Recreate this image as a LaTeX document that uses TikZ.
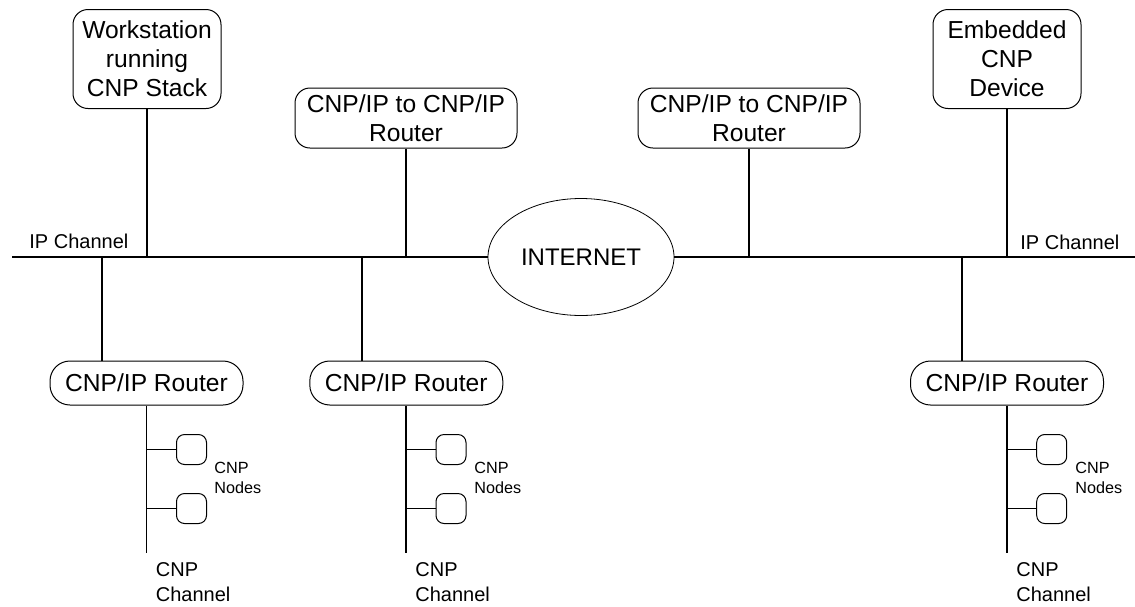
\documentclass[tikz,border=0pt]{standalone}
\usepackage{fontspec}
\setmainfont{Liberation Sans}
\usetikzlibrary{shapes.geometric, positioning}
\tikzset{
    % Node styles - rounded corners
    hostbox/.style={
        rectangle,
        rounded corners=7.5pt,
        draw,
        line width=0.5pt,
        minimum width=74pt,
        minimum height=49.5pt,
        inner sep=0pt,
        align=center,
        font=\fontsize{12.3}{14.5}\selectfont
    },
    gatebox/.style={
        hostbox,
        minimum width=111pt,
        minimum height=30pt
    },
    routerbox/.style={
        hostbox,
        rounded corners=10pt,
        minimum width=96.5pt,
        minimum height=22pt
    },
    nodebox/.style={
        rectangle,
        rounded corners=4pt,
        draw,
        line width=0.5pt,
        minimum size=15pt,
        inner sep=0pt
    },
    netcloud/.style={
        ellipse,
        draw,
        line width=0.4pt,
        minimum width=93pt,
        minimum height=58.5pt,
        inner sep=0pt,
        font=\fontsize{12}{14}\selectfont
    },
    % Label styles
    chanlabel/.style={
        anchor=west,
        inner sep=0pt,
        align=left,
        font=\fontsize{10}{12.5}\selectfont
    },
    nodelabel/.style={
        anchor=west,
        inner sep=0pt,
        align=left,
        font=\fontsize{8.1}{10}\selectfont
    },
    % Line styles
    link/.style={
        draw,
        line width=0.9pt
    }
}

\begin{document}
\begin{tikzpicture}[x=0.5pt, y=-0.5pt]
    \useasboundingbox (0,0) rectangle (1135,606);

    % IP backbone
    \coordinate (busL) at (12,257);
    \coordinate (busR) at (1135,257);
    \node[netcloud] (inet) at (581,257) {INTERNET};
    \draw[link] (busL) -- (inet.west);
    \draw[link] (inet.east) -- (busR);
    \node[chanlabel] (ipL) at (29,241) {IP Channel};
    \node[chanlabel] (ipR) at (1020,242) {IP Channel};

    % hosts and gateways above the backbone
    \node[hostbox] (ws) at (147,59) {Workstation\\running\\CNP Stack};
    \node[gatebox] (gwA) at (406,118) {CNP/IP to CNP/IP\\Router};
    \node[gatebox] (gwB) at (749,118) {CNP/IP to CNP/IP\\Router};
    \node[hostbox] (emb) at (1007,59) {Embedded\\CNP\\Device};

    \draw[link] (ws) -- (ws |- busL);
    \draw[link] (gwA) -- (gwA |- busL);
    \draw[link] (gwB) -- (gwB |- busL);
    \draw[link] (emb) -- (emb |- busL);

    % left CNP/IP router
    \node[routerbox] (rtA) at (146.5,383) {CNP/IP Router};
    \coordinate (tapA) at (102,257);
    \coordinate (chA) at (146.5,553);
    \node[nodebox] (ndA1) at (191.5,449.5) {};
    \node[nodebox] (ndA2) at (191.5,508.5) {};
    \draw[link] (tapA) -- (tapA |- rtA.north);
    \draw[link] (rtA) -- (chA);
    \draw[link] (ndA1.west -| chA) -- (ndA1);
    \draw[link] (ndA2.west -| chA) -- (ndA2);
    \node[nodelabel] (lbA) at (214,478) {CNP\\Nodes};
    \node[chanlabel] (chlA) at (155.5,582.5) {CNP\\Channel};

    % middle CNP/IP router
    \node[routerbox] (rtB) at (406.3,383) {CNP/IP Router};
    \coordinate (tapB) at (362,257);
    \coordinate (chB) at (406.3,553);
    \node[nodebox] (ndB1) at (451,449.5) {};
    \node[nodebox] (ndB2) at (451,508.5) {};
    \draw[link] (tapB) -- (tapB |- rtB.north);
    \draw[link] (rtB) -- (chB);
    \draw[link] (ndB1.west -| chB) -- (ndB1);
    \draw[link] (ndB2.west -| chB) -- (ndB2);
    \node[nodelabel] (lbB) at (474,478) {CNP\\Nodes};
    \node[chanlabel] (chlB) at (415,582.5) {CNP\\Channel};

    % right CNP/IP router
    \node[routerbox] (rtC) at (1007,383) {CNP/IP Router};
    \coordinate (tapC) at (962,257);
    \coordinate (chC) at (1007,553);
    \node[nodebox] (ndC1) at (1051.7,449.5) {};
    \node[nodebox] (ndC2) at (1051.7,508.5) {};
    \draw[link] (tapC) -- (tapC |- rtC.north);
    \draw[link] (rtC) -- (chC);
    \draw[link] (ndC1.west -| chC) -- (ndC1);
    \draw[link] (ndC2.west -| chC) -- (ndC2);
    \node[nodelabel] (lbC) at (1075,478) {CNP\\Nodes};
    \node[chanlabel] (chlC) at (1016,582.5) {CNP\\Channel};
\end{tikzpicture}
\end{document}
